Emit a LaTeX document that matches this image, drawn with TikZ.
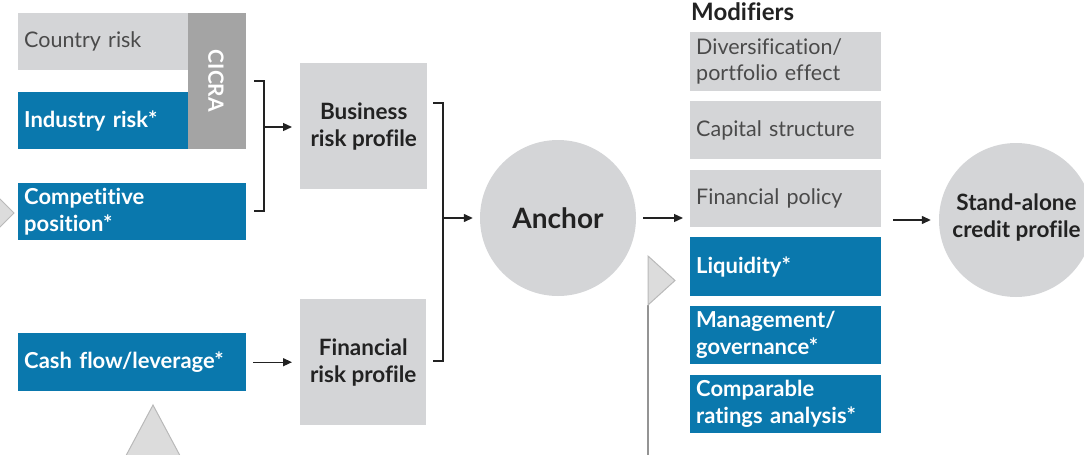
\documentclass[tikz,border=0pt]{standalone}
\usepackage{fontspec}
\setmainfont[Ligatures={NoCommon}]{Lato}
\usetikzlibrary{arrows.meta}
\definecolor{spblue}{HTML}{0A78AD}
\definecolor{spgrey}{HTML}{D4D5D7}
\definecolor{cicragrey}{HTML}{A4A4A4}
\definecolor{ink}{HTML}{222222}
\definecolor{softink}{HTML}{4A4A4A}
\definecolor{triedge}{HTML}{B9B9B9}
\definecolor{trifill}{HTML}{DCDCDC}
\tikzset{
  box/.style={anchor=north west, inner xsep=6pt, inner ysep=0pt, align=left},
  bluebox/.style={box, fill=spblue, text=white, font=\fontsize{22}{27}\selectfont\bfseries},
  greybox/.style={box, fill=spgrey, text=softink, font=\fontsize{21.5}{26}\selectfont},
  profilebox/.style={anchor=north west, fill=spgrey, text=ink, align=center, inner sep=0pt,
    font=\fontsize{22.5}{27}\selectfont\bfseries},
  bubble/.style={circle, fill=spgrey, text=ink, align=center, inner sep=0pt},
  link/.style={draw=ink, line width=1.3pt, -{Triangle[length=9pt,width=8pt]}},
  brace/.style={draw=ink, line width=1.2pt},
  pointer/.style={fill=trifill, draw=triedge, line width=1pt},
}
\begin{document}
\begin{tikzpicture}[x=1pt,y=-1pt]
\useasboundingbox (0,0) rectangle (1084,455);
\begin{scope}
\clip (0,0) rectangle (1084,455);

% decorative pointers
\draw[pointer] (-25,174) -- (14,213) -- (-25,252) -- cycle;
\draw[pointer] (153,405) -- (121,465) -- (185,465) -- cycle;
\draw[draw=triedge!80!black, line width=1.2pt] (648,305) -- (648,460);
\draw[pointer] (648,256) -- (675,280.5) -- (648,305) -- cycle;

% CICRA inputs
\node[greybox, minimum width=170pt, minimum height=57pt, text width=158pt] (country) at (18,13) {Country risk};
\node[bluebox, minimum width=170pt, minimum height=57pt, text width=158pt] (industry) at (18,92) {Industry risk*};
\node[anchor=north west, fill=cicragrey, minimum width=58pt, minimum height=136pt, inner sep=0pt] (cicra) at (188,13) {};
\node[text=white, rotate=-90, font=\fontsize{21}{22}\selectfont\bfseries] (cicratext) at (216,81) {CICRA};
\node[bluebox, minimum width=228pt, minimum height=57pt, text width=216pt] (competitive) at (18,183) {Competitive\\position*};
\node[bluebox, minimum width=228pt, minimum height=58pt, text width=216pt] (cashflow) at (18,333) {Cash flow/leverage*};

% profiles
\node[profilebox, minimum width=127pt, minimum height=126pt] (business) at (300,63) {Business\\risk profile};
\node[profilebox, minimum width=126pt, minimum height=126pt] (financial) at (300,299) {Financial\\risk profile};

% anchor
\node[bubble, minimum size=156pt, font=\fontsize{28}{32}\selectfont\bfseries] (anchor) at (558,218) {Anchor};

% modifiers
\node[anchor=north west, inner sep=0pt, text=ink, font=\fontsize{24}{26}\selectfont\bfseries] (modtitle) at (691,2) {Modifiers};
\node[greybox, minimum width=191pt, minimum height=59pt, text width=179pt] (divers) at (690,32) {Diversification/\\portfolio effect};
\node[greybox, minimum width=191pt, minimum height=58pt, text width=179pt] (capital) at (690,101) {Capital structure};
\node[greybox, minimum width=191pt, minimum height=57pt, text width=179pt] (policy) at (690,170) {Financial policy};
\node[bluebox, minimum width=191pt, minimum height=59pt, text width=179pt] (liquidity) at (690,237) {Liquidity*};
\node[bluebox, minimum width=191pt, minimum height=58pt, text width=179pt] (management) at (690,306) {Management/\\governance*};
\node[bluebox, minimum width=191pt, minimum height=58pt, text width=179pt] (comparable) at (690,375) {Comparable\\ratings analysis*};

% stand-alone credit profile
\node[bubble, minimum size=154pt] (sacp) at (1016,220) {};
\node[text=ink, align=center, inner sep=0pt, font=\fontsize{22.5}{27}\selectfont\bfseries] (sacptext) at (1016.5,218) {Stand-alone\\credit profile};

% bracket gathering the business inputs
\coordinate (b1top) at (264,81);
\coordinate (b1bot) at (264,211);
\coordinate (b1mid) at (264,127);
\draw[brace] (254,81) -- (b1top) -- (b1bot) -- (254,211);
\draw[link, shorten >=8pt] (b1mid) -- (business.west |- b1mid);

% cash flow into financial risk profile
\draw[link, shorten <=7pt, shorten >=8pt] (cashflow.east) -- (financial.west |- cashflow.east);

% bracket gathering both profiles
\coordinate (b2top) at (443,103);
\coordinate (b2bot) at (443,361);
\coordinate (b2mid) at (443,218);
\draw[brace] (433,103) -- (b2top) -- (b2bot) -- (433,361);
\draw[link, shorten >=7pt] (b2mid) -- (anchor.west);

% anchor into modifiers, modifiers into SACP
\draw[link, shorten <=7pt, shorten >=7pt] (anchor.east) -- (policy.west |- anchor.east);
\draw[link, shorten <=12pt, shorten >=8pt] (policy.east |- sacp.west) -- (sacp.west);
\end{scope}
\end{tikzpicture}
\end{document}
